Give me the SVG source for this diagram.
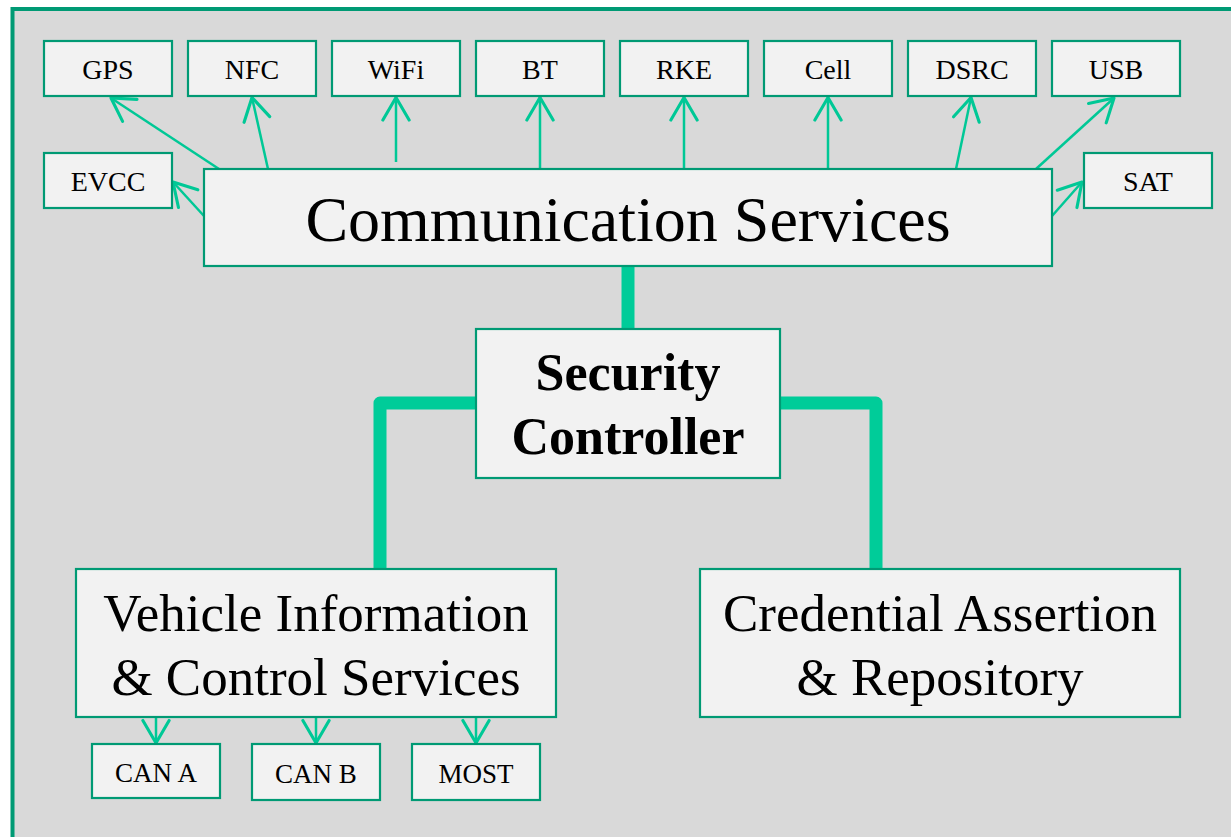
<svg xmlns="http://www.w3.org/2000/svg" width="1231" height="837" viewBox="0 0 1231 837">
  <defs>
    <style>
      .box { fill: #f2f2f2; stroke: #009a74; stroke-width: 2.2; }
      .lbl { font-family: "Liberation Serif", "Times New Roman", serif; fill: #000; text-anchor: middle; }
      .small { font-size: 28px; }
      .can { font-size: 27px; }
      .big { font-size: 64px; }
      .mid { font-size: 53px; }
      .bold { font-size: 52px; font-weight: bold; }
      .arrow { stroke: #00c896; stroke-width: 2.5; fill: none; marker-end: url(#head); }
      .trunk { stroke: #00cc99; stroke-width: 13; fill: none; stroke-linejoin: round; }
    </style>
    <marker id="head" markerUnits="userSpaceOnUse" markerWidth="30" markerHeight="30" viewBox="-20 -12 22 24" refX="0" refY="0" orient="auto">
      <path d="M-18,-10.5 L0,0 L-18,10.5" fill="none" stroke="#00c896" stroke-width="2.5" stroke-linecap="round" stroke-linejoin="round"/>
    </marker>
  </defs>

  <!-- page background and frame -->
  <rect x="0" y="0" width="1231" height="837" fill="#ffffff"/>
  <rect x="12.5" y="9" width="1300" height="900" fill="#d9d9d9" stroke="#009a74" stroke-width="4"/>

  <!-- connectors -->
  <g id="connectors">
    <path class="trunk" d="M628,266 V329"/>
    <path class="trunk" d="M476,403 H380 V569"/>
    <path class="trunk" d="M780,403 H876 V569"/>

    <line class="arrow" x1="219" y1="169" x2="111" y2="98"/>
    <line class="arrow" x1="268" y1="169" x2="252" y2="97.5"/>
    <line class="arrow" x1="396" y1="162" x2="396" y2="97.5"/>
    <line class="arrow" x1="540" y1="170" x2="540" y2="97.5"/>
    <line class="arrow" x1="684" y1="170" x2="684" y2="97.5"/>
    <line class="arrow" x1="828" y1="170" x2="828" y2="97.5"/>
    <line class="arrow" x1="956" y1="169" x2="971" y2="97.5"/>
    <line class="arrow" x1="1036" y1="169" x2="1114" y2="98"/>
    <line class="arrow" x1="204" y1="216" x2="173" y2="182"/>
    <line class="arrow" x1="1052" y1="216" x2="1082" y2="182"/>

    <line class="arrow" x1="156" y1="713" x2="156" y2="743"/>
    <line class="arrow" x1="316" y1="713" x2="316" y2="743"/>
    <line class="arrow" x1="476" y1="713" x2="476" y2="743"/>
  </g>

  <!-- interface nodes, top row -->
  <g id="gps"><rect class="box" x="44" y="41" width="128" height="55"/><text class="lbl small" x="108" y="79">GPS</text></g>
  <g id="nfc"><rect class="box" x="188" y="41" width="128" height="55"/><text class="lbl small" x="252" y="79">NFC</text></g>
  <g id="wifi"><rect class="box" x="332" y="41" width="128" height="55"/><text class="lbl small" x="396" y="79">WiFi</text></g>
  <g id="bt"><rect class="box" x="476" y="41" width="128" height="55"/><text class="lbl small" x="540" y="79">BT</text></g>
  <g id="rke"><rect class="box" x="620" y="41" width="128" height="55"/><text class="lbl small" x="684" y="79">RKE</text></g>
  <g id="cell"><rect class="box" x="764" y="41" width="128" height="55"/><text class="lbl small" x="828" y="79">Cell</text></g>
  <g id="dsrc"><rect class="box" x="908" y="41" width="128" height="55"/><text class="lbl small" x="972" y="79">DSRC</text></g>
  <g id="usb"><rect class="box" x="1052" y="41" width="128" height="55"/><text class="lbl small" x="1116" y="79">USB</text></g>

  <!-- side interface nodes -->
  <g id="evcc"><rect class="box" x="44" y="153" width="128" height="55"/><text class="lbl small" x="108" y="191">EVCC</text></g>
  <g id="sat"><rect class="box" x="1084" y="153" width="128" height="55"/><text class="lbl small" x="1148" y="191">SAT</text></g>

  <!-- main service blocks -->
  <g id="comm-services"><rect class="box" x="204" y="169" width="848" height="97"/><text class="lbl big" x="628" y="241">Communication Services</text></g>
  <g id="security-controller"><rect class="box" x="476" y="329" width="304" height="149"/><text class="lbl bold" x="628" y="390">Security</text><text class="lbl bold" x="628" y="454">Controller</text></g>
  <g id="vehicle-services"><rect class="box" x="76" y="569" width="480" height="148"/><text class="lbl mid" x="316" y="631">Vehicle Information</text><text class="lbl mid" x="316" y="695">&amp; Control Services</text></g>
  <g id="credential-repo"><rect class="box" x="700" y="569" width="480" height="148"/><text class="lbl mid" x="940" y="631">Credential Assertion</text><text class="lbl mid" x="940" y="695">&amp; Repository</text></g>

  <!-- vehicle bus nodes -->
  <g id="can-a"><rect class="box" x="92" y="744" width="128" height="54"/><text class="lbl can" x="156" y="782">CAN A</text></g>
  <g id="can-b"><rect class="box" x="252" y="744" width="128" height="56"/><text class="lbl can" x="316" y="783">CAN B</text></g>
  <g id="most"><rect class="box" x="412" y="744" width="128" height="56"/><text class="lbl can" x="476" y="783">MOST</text></g>
</svg>
